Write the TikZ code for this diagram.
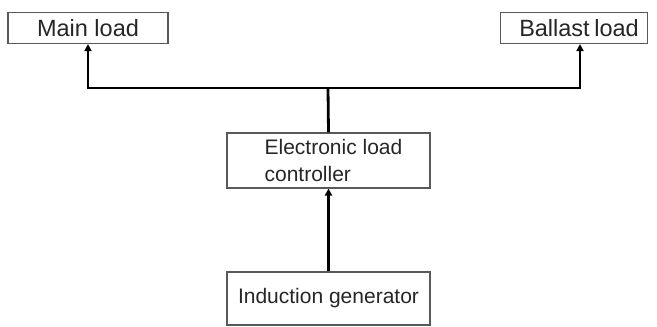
\documentclass[tikz,border=0pt]{standalone}
\usepackage{fontspec}
\setmainfont{Liberation Sans}
\usetikzlibrary{arrows.meta}
\begin{document}
\begin{tikzpicture}[x=1pt,y=-1pt,
  box/.style={draw=black!65,line width=1.1pt,fill=white,inner sep=0pt,
    font=\fontsize{21}{27}\selectfont,text=black!85},
  big/.style={font=\fontsize{23.5}{27}\selectfont},
  conn/.style={line width=2.8pt,black},
  arr/.style={-{Triangle[width=7pt,length=7pt]}}]
\useasboundingbox (0,0) rectangle (657,327);
\node[box,big,minimum width=160pt,minimum height=31pt] (main) at (88,28) {Main load\hspace{13pt}};
\node[box,big,minimum width=147pt,minimum height=31pt] (ballast) at (574,28) {\hspace{10pt}Ballast\hspace{-2pt} load};
\node[box,minimum width=203pt,minimum height=55pt,align=left] (elc) at (328.5,160.5) {\hspace*{10pt}Electronic load\\\hspace*{10pt}controller};
\node[box,minimum width=203pt,minimum height=53pt] (ig) at (328.5,298.5) {Induction generator};
\coordinate (j) at (328,88);
\draw[conn] (elc.north) -- (j);
\draw[conn,arr] (j) -| (main.south);
\draw[conn,arr] (j) -| ([xshift=6pt]ballast.south);
\draw[conn,arr] (ig.north) -- (elc.south);
\end{tikzpicture}
\end{document}
